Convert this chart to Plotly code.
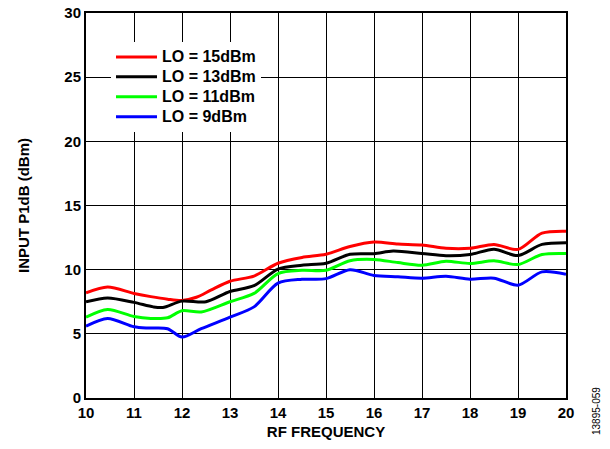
import plotly.graph_objects as go

# Data
x_red = [10, 10.45, 11, 11.35, 11.7, 12, 12.3, 12.6, 13, 13.5, 14, 14.5, 15, 15.5, 16, 16.5, 17, 17.5, 18, 18.5, 19, 19.5, 20]
y_red = [8.2, 8.65, 8.15, 7.9, 7.7, 7.6, 7.85, 8.4, 9.1, 9.5, 10.5, 10.95, 11.2, 11.8, 12.15, 12.0, 11.92, 11.66, 11.66, 11.97, 11.58, 12.85, 13.0]

x_black = [10, 10.45, 11, 11.4, 11.6, 12, 12.5, 13, 13.5, 14, 14.5, 15, 15.5, 16, 16.4, 17, 17.5, 18, 18.5, 19, 19.5, 20]
y_black = [7.5, 7.8, 7.45, 7.1, 7.05, 7.55, 7.5, 8.3, 8.75, 10.05, 10.35, 10.5, 11.2, 11.25, 11.45, 11.26, 11.08, 11.18, 11.6, 11.1, 11.97, 12.1]

x_green = [10, 10.45, 11, 11.35, 11.7, 12, 12.4, 13, 13.5, 14, 14.5, 15, 15.5, 16, 16.5, 17, 17.5, 18, 18.5, 19, 19.5, 20]
y_green = [6.3, 6.9, 6.35, 6.2, 6.25, 6.8, 6.7, 7.5, 8.15, 9.7, 9.95, 9.95, 10.7, 10.8, 10.55, 10.35, 10.66, 10.48, 10.69, 10.4, 11.18, 11.26]

x_blue = [10, 10.45, 11, 11.3, 11.7, 12, 12.4, 13, 13.5, 14, 14.5, 15, 15.5, 16, 16.5, 17, 17.5, 18, 18.5, 19, 19.5, 20]
y_blue = [5.6, 6.2, 5.55, 5.45, 5.4, 4.75, 5.4, 6.3, 7.1, 8.95, 9.25, 9.3, 10.0, 9.55, 9.45, 9.34, 9.49, 9.26, 9.34, 8.79, 9.83, 9.65]

series = [
    ("LO = 15dBm", x_red, y_red, "#ff0000"),
    ("LO = 13dBm", x_black, y_black, "#000000"),
    ("LO = 11dBm", x_green, y_green, "#00ff00"),
    ("LO = 9dBm", x_blue, y_blue, "#0000ff"),
]

x_ticks = [10, 11, 12, 13, 14, 15, 16, 17, 18, 19, 20]
y_ticks = [0, 5, 10, 15, 20, 25, 30]

FONT = "Arial, Liberation Sans, sans-serif"
# page body adds an 8px offset; margins are compensated for it
OFF = 8
W, H = 610, 449
L, R, T, B = 86 - OFF, 52, 13 - OFF, 59
PW, PH = W - L - R, H - T - B


def py(v):  # window pixel (y) -> paper fraction
    return (H - B + OFF - v) / PH


def px(v):  # window pixel (x) -> paper fraction
    return (v - OFF - L) / PW


fig = go.Figure()
for name, xs, ys, color in series:
    fig.add_trace(go.Scatter(
        x=xs, y=ys, mode="lines",
        name='<span style="font-size:16px">' + name + '</span>',
        line=dict(color=color, width=3, shape="spline", smoothing=0.8),
    ))

fig.update_layout(
    width=W, height=H,
    margin=dict(l=L, r=R, t=T, b=B, autoexpand=False),
    paper_bgcolor="white", plot_bgcolor="white",
    font=dict(family=FONT, size=15, color="black"),
    showlegend=True,
    legend=dict(
        x=px(111), y=py(42), xanchor="left", yanchor="top",
        bgcolor="white", borderwidth=0,
        font=dict(family=FONT, size=13, color="black", weight="bold"),
        tracegroupgap=0, itemwidth=41,
    ),
    annotations=[dict(
        text="13895-059", x=px(597), y=py(411),
        xref="paper", yref="paper", xanchor="center", yanchor="middle",
        showarrow=False, textangle=-90,
        font=dict(family=FONT, size=10, color="black"),
    )],
)

fig.update_xaxes(
    range=[10, 20], tickvals=x_ticks, ticktext=[str(v) for v in x_ticks],
    showgrid=True, gridcolor="black", gridwidth=1,
    showline=True, linecolor="black", linewidth=2, mirror=True,
    ticks="", zeroline=False, automargin=False, ticklabeloverflow="allow",
    tickfont=dict(family=FONT, size=15, color="black", weight="bold"),
    title=dict(text="RF FREQUENCY", standoff=6,
               font=dict(family=FONT, size=15, color="black", weight="bold")),
)
fig.update_yaxes(
    range=[0, 30], tickvals=y_ticks, ticktext=[str(v) for v in y_ticks],
    showgrid=True, gridcolor="black", gridwidth=1,
    showline=True, linecolor="black", linewidth=2, mirror=True,
    ticks="", zeroline=False, automargin=False, ticklabeloverflow="allow",
    tickfont=dict(family=FONT, size=15, color="black", weight="bold"),
    title=dict(text="INPUT P1dB (dBm)", standoff=31,
               font=dict(family=FONT, size=15, color="black", weight="bold")),
)

fig.write_html("out.html")
